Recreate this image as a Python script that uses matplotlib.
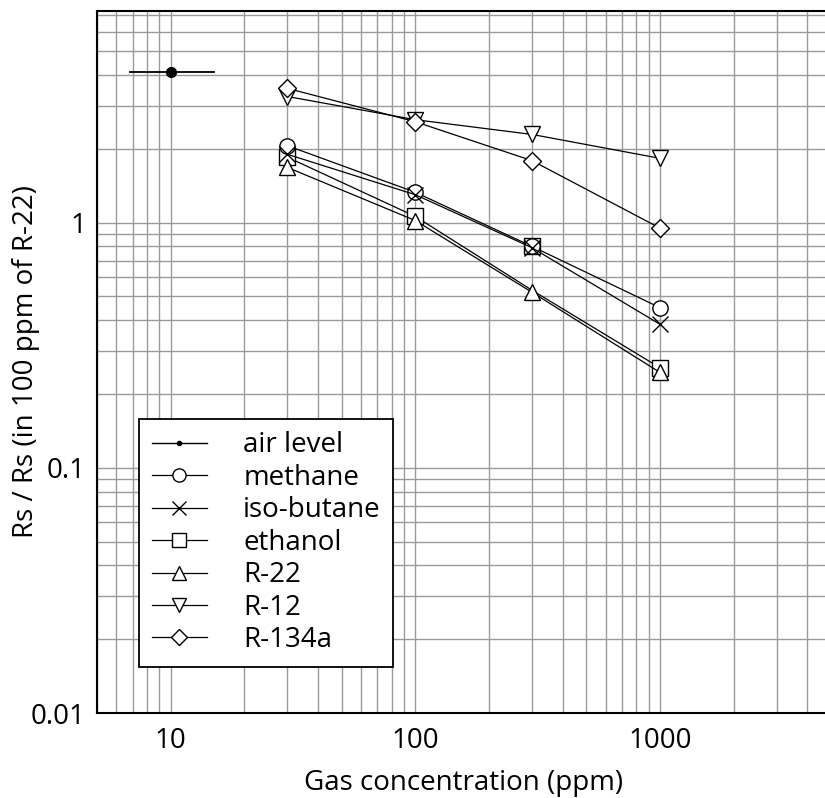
import matplotlib
matplotlib.use("Agg")
import matplotlib.pyplot as plt
from matplotlib.lines import Line2D
from matplotlib.ticker import LogLocator, FuncFormatter, NullFormatter

plt.rcParams['font.family'] = ['Open Sans', 'DejaVu Sans']

# gas concentration (ppm)
conc = [30, 100, 300, 1000]

# Rs / Rs(100 ppm R-22)
air_x = [6.8, 15]
air_y = [4.1, 4.1]
methane = [2.06, 1.33, 0.80, 0.45]
isobutane = [1.90, 1.30, 0.79, 0.385]
ethanol = [1.85, 1.06, 0.53, 0.256]
ethanol_marks = [1.85, 1.06, 0.80, 0.256]   # square at 300 sits behind the methane circle
r22 = [1.68, 1.02, 0.52, 0.245]
r12 = [3.27, 2.63, 2.29, 1.83]
r134a = [3.53, 2.58, 1.79, 0.95]

fig = plt.figure(figsize=(8.25, 7.98), dpi=100)
ax = fig.add_axes([97 / 825, 85 / 798, 734 / 825, 702 / 798])

ax.set_xscale('log')
ax.set_yscale('log')
ax.set_xlim(5, 5000)
ax.set_ylim(0.01, 7.3)

mk = dict(color='black', lw=0.9, mfc='white', mec='black', mew=1.0, ms=11)

ax.plot(air_x, air_y, color='black', lw=1.3)
ax.plot([10], [4.1], 'o', color='black', ms=7)
ax.plot(conc, ethanol, color='black', lw=0.9)
ax.plot(conc, ethanol_marks, ls='none', marker='s', **mk)
ax.plot(conc, r22, marker='^', **mk)
ax.plot(conc, methane, marker='o', **mk)
ax.plot(conc, isobutane, marker='x', **mk)
ax.plot(conc, r12, marker='v', **mk)
ax.plot(conc, r134a, marker='D', **dict(mk, ms=9))

ax.xaxis.set_major_locator(LogLocator(base=10, numticks=10))
ax.yaxis.set_major_locator(LogLocator(base=10, numticks=10))
ax.xaxis.set_minor_locator(LogLocator(base=10, subs=range(2, 10), numticks=20))
ax.yaxis.set_minor_locator(LogLocator(base=10, subs=range(2, 10), numticks=20))
ax.xaxis.set_major_formatter(FuncFormatter(lambda v, p: '%g' % v))
ax.yaxis.set_major_formatter(FuncFormatter(lambda v, p: '%g' % v))
ax.xaxis.set_minor_formatter(NullFormatter())
ax.yaxis.set_minor_formatter(NullFormatter())

ax.grid(which='both', color='#9a9a9a', lw=1.0)
ax.set_axisbelow(True)
ax.tick_params(which='both', length=0, labelsize=20)
ax.tick_params(axis='x', pad=10)
ax.tick_params(axis='y', pad=8)
for s in ax.spines.values():
    s.set_linewidth(1.5)

ax.set_xlabel('Gas concentration (ppm)', fontsize=20, labelpad=10)
ax.set_ylabel('Rs / Rs (in 100 ppm of R-22)', fontsize=20)
ax.yaxis.set_label_coords((40 - 97) / 734, 0.5)

# legend
leg_style = dict(color='black', lw=0.9, mfc='white', mec='black', mew=1.0, ms=9.5)
handles = [
    Line2D([], [], color='black', lw=1.0, marker='o', ms=3),
    Line2D([], [], marker='o', **leg_style),
    Line2D([], [], marker='x', **leg_style),
    Line2D([], [], marker='s', **leg_style),
    Line2D([], [], marker='^', **leg_style),
    Line2D([], [], marker='v', **leg_style),
    Line2D([], [], marker='D', **dict(leg_style, ms=8)),
]
labels = ['air level', 'methane', 'iso-butane', 'ethanol', 'R-22', 'R-12', 'R-134a']
leg = ax.legend(handles, labels, loc='upper left',
                bbox_to_anchor=(139 / 825, 1 - 419 / 798), bbox_transform=fig.transFigure,
                borderaxespad=0, fontsize=20, fancybox=False, framealpha=1,
                edgecolor='black', handlelength=2.0, handletextpad=1.3,
                labelspacing=0.16, borderpad=0.45)
leg.get_frame().set_linewidth(1.3)

fig.savefig('out.png', dpi=100)
